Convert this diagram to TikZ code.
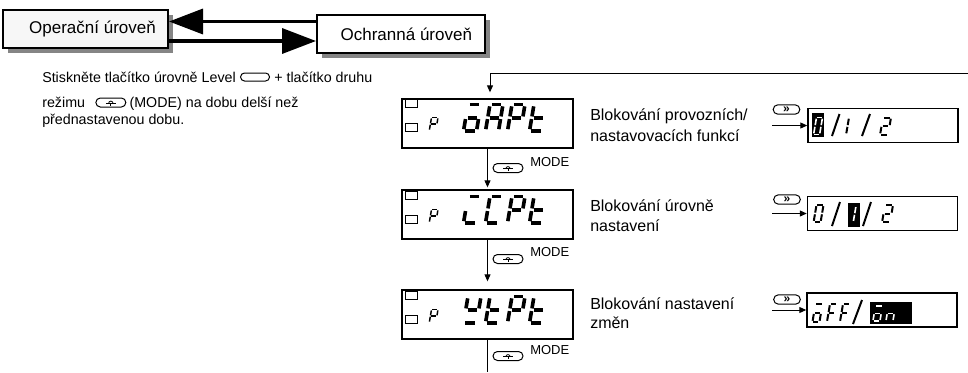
\documentclass[tikz,border=0pt]{standalone}
\usepackage{fontspec}
\setmainfont{Liberation Sans}
\usetikzlibrary{arrows.meta,calc,shapes.misc,shadows}
\definecolor{shadowgray}{HTML}{858585}
\definecolor{boxfill}{HTML}{F7F7F7}
% seven-segment pieces (unit cell, y downward)
\newcommand\segA{\draw[seg] (0.14,0)--(0.86,0);}
\newcommand\segB{\draw[seg] (1,0.07)--(1,0.45);}
\newcommand\segC{\draw[seg] (1,0.55)--(1,0.93);}
\newcommand\segD{\draw[seg] (0.14,1)--(0.86,1);}
\newcommand\segE{\draw[seg] (0,0.55)--(0,0.93);}
\newcommand\segF{\draw[seg] (0,0.07)--(0,0.45);}
\newcommand\segG{\draw[seg] (0.14,0.5)--(0.86,0.5);}
\newcommand\glyph[6]{\begin{scope}[shift={(#2,#3)},xslant=0.17,xscale=#4,yscale=#5,seg/.style={#1}]#6\end{scope}}
\newcommand\lcdfill[5]{%
  \draw[ledbox] (405,#1+1.5) rectangle (417,#1+9.5);
  \draw[ledbox] (405,#1+25) rectangle (417,#1+33);
  \glyph{line width=1.1pt}{431.5}{#1+19.5}{6.5}{13}{\segA\segB\segF\segG\segE}
  \glyph{bigseg}{468}{#1+6.5}{13}{26.5}{#2}
  \glyph{bigseg}{490}{#1+6.5}{13}{26.5}{#3}
  \glyph{bigseg}{512}{#1+6.5}{13}{26.5}{#4}
  \glyph{bigseg}{534}{#1+6.5}{13}{26.5}{#5}}
\newcommand\modesym[1]{%
  \draw[line width=0.6pt] ($(#1.center)+(-5,0.8)$) -- ++(10,0);
  \draw[line width=0.6pt] ($(#1.center)+(-2.2,0.8)$) arc[start angle=180,end angle=360,radius=2.2];
  \draw[line width=0.6pt] ($(#1.center)+(0,0.8)$) -- ++(0,2.2);}
\tikzset{
  lvlbox/.style={draw, line width=1.5pt, minimum height=28.5pt, inner sep=0pt,
    font=\fontsize{12.75}{15}\selectfont,
    general shadow={fill=shadowgray, shadow xshift=3.5pt, shadow yshift=-3.5pt}},
  lcd/.style={draw, line width=1pt, minimum width=128.25pt, minimum height=36.75pt, inner sep=0pt},
  sbox/.style={draw, line width=1.1pt, minimum width=112.5pt, minimum height=25.5pt, inner sep=0pt},
  bigarrow/.style={line width=2.6pt, -{Triangle[length=25.5pt,width=18.75pt]}},
  thinarrow/.style={line width=0.75pt, -{Triangle[length=5.25pt,width=4.5pt]}},
  thinline/.style={line width=0.75pt},
  pill/.style={draw, rounded rectangle, line width=0.75pt, inner sep=0pt,
    minimum width=22.5pt, minimum height=6.75pt},
  keypill/.style={pill, minimum width=20pt, minimum height=7pt,
    font=\bfseries\fontsize{9}{9}\selectfont},
  lbl/.style={font=\fontsize{12}{14}\selectfont, anchor=base west, inner sep=0pt},
  note/.style={font=\fontsize{10.7}{12}\selectfont, anchor=base west, inner sep=0pt},
  modetxt/.style={font=\fontsize{9.75}{11}\selectfont, anchor=west, inner sep=0pt},
  bigseg/.style={line width=2.7pt},
  smseg/.style={line width=1.5pt},
  invseg/.style={line width=1.2pt, white},
  ledbox/.style={line width=0.6pt},
  slashline/.style={line width=1.5pt},
}
\begin{document}
\begin{tikzpicture}[x=0.75pt,y=-0.75pt]
\useasboundingbox (0,0) rectangle (968,372);

% top level boxes
\node[lvlbox, fill=boxfill, minimum width=123.75pt] (oper) at (85.5,29) {\hspace*{10.5pt}Operační úroveň};
\node[lvlbox, fill=white, minimum width=126pt] (ochr) at (401,34) {\hspace*{8pt}Ochranná úroveň};
\coordinate (uplev) at (0,21.5);
\coordinate (dnlev) at (0,41);
\draw[bigarrow] (ochr.west |- uplev) -- (oper.east |- uplev);
\draw[bigarrow] (oper.east |- dnlev) -- (ochr.west |- dnlev);

% left note
\node[note] (n1) at (42,82) {Stiskněte tlačítko úrovně Level};
\node[pill, minimum width=21.75pt, minimum height=6pt, anchor=west] (lvl) at ($(n1.base east)+(4,-5)$) {};
\node[note] (n1b) at ($(lvl.east)+(4,5)$) {+ tlačítko druhu};
\node[note] (n2) at (42,107) {režimu};
\node[pill, anchor=west] (mk0) at ($(n2.base east)+(10,-4.5)$) {};
\modesym{mk0}
\node[note] (n2b) at ($(mk0.east)+(3,4.5)$) {(MODE) na dobu delší než};
\node[note] (n3) at (42,124) {přednastavenou dobu.};

% LCD displays
\node[lcd] (d1) at (487.5,123.5) {};
\node[lcd] (d2) at (487.5,214.5) {};
\node[lcd] (d3) at (487.5,314.5) {};
\lcdfill{98}{\segA\segC\segD\segE\segG}{\segA\segB\segC\segE\segF\segG}{\segA\segB\segE\segF\segG}{\segF\segE\segD\segG}
\lcdfill{190}{\segA\segE\segD}{\segA\segF\segE\segD}{\segA\segB\segE\segF\segG}{\segF\segE\segD\segG}
\lcdfill{290}{\segF\segB\segG\segD}{\segF\segE\segD\segG}{\segA\segB\segE\segF\segG}{\segF\segE\segD\segG}

% feedback line and vertical connectors
\coordinate (fbR) at (968,73);
\coordinate (fbC) at (490,73);
\coordinate (bot) at (487.5,372);
\draw[thinarrow, shorten >=4.5pt] (fbR) -- (fbC) -- (fbC |- d1.north);
\draw[thinarrow, shorten >=1.5pt] (d1.south) -- (d2.north);
\draw[thinarrow, shorten >=6pt] (d2.south) -- (d3.north);
\draw[thinline] (d3.south) -- (bot);

% MODE labels
\node[pill] (m1) at (508,168) {}; \modesym{m1}
\node[modetxt] (mt1) at (530,162) {MODE};
\node[pill] (m2) at (508,259) {}; \modesym{m2}
\node[modetxt] (mt2) at (530,252) {MODE};
\node[pill] (m3) at (508,356) {}; \modesym{m3}
\node[modetxt] (mt3) at (530,350) {MODE};

% right labels
\node[lbl] (l1a) at (590,120) {Blokování provozních/};
\node[lbl] (l1b) at (590,141) {nastavovacích funkcí};
\node[lbl] (l2a) at (590,211) {Blokování úrovně};
\node[lbl] (l2b) at (590,231) {nastavení};
\node[lbl] (l3a) at (590,309) {Blokování nastavení};
\node[lbl] (l3b) at (590,328) {změn};

% small displays
\node[sbox] (sb1) at (883,125.5) {};
\node[sbox] (sb2) at (882.5,213.5) {};
\node[sbox] (sb3) at (882,310) {};

% shift keys and arrows
\node[keypill] (k1) at (786.5,109.5) {»};
\node[keypill] (k2) at (787,199.5) {»};
\node[keypill] (k3) at (787,299.5) {»};
\coordinate (ax) at (772,0);
\draw[thinarrow] (ax |- sb1.west) -- (sb1.west);
\draw[thinarrow] (ax |- sb2.west) -- (sb2.west);
\draw[thinarrow] (ax |- sb3.west) -- (sb3.west);

% contents of small display 1: 0 / 1 / 2 (0 highlighted)
\fill (812,113) rectangle (824,137);
\glyph{invseg}{816.5}{117.5}{6}{17}{\segA\segB\segC\segD\segE\segF}
\draw[slashline] (832,136) -- (839.5,114);
\glyph{smseg}{841}{117.5}{8}{17}{\segB\segC}
\draw[slashline] (862,136) -- (870,114);
\glyph{smseg}{883}{117.5}{8}{17}{\segA\segB\segG\segE\segD}

% small display 2: 0 / 1 / 2 (1 highlighted)
\glyph{smseg}{816.5}{205}{7}{17}{\segA\segB\segC\segD\segE\segF}
\draw[slashline] (832,226) -- (840,202);
\fill (848,203) rectangle (860,227);
\glyph{invseg}{849}{206}{7}{16}{\segB\segC}
\draw[slashline] (863,226) -- (871,202);
\glyph{smseg}{885}{205}{8}{17}{\segA\segB\segG\segE\segD}

% small display 3: oFF / on (on highlighted)
\glyph{smseg}{815.5}{304}{7}{18}{\segA\segC\segD\segE\segG}
\glyph{smseg}{830}{304}{7}{18}{\segA\segF\segE\segG}
\glyph{smseg}{843}{304}{7}{18}{\segA\segF\segE\segG}
\draw[slashline] (853,324) -- (862,300);
\fill (870,302) rectangle (912,324);
\glyph{invseg}{875.5}{306}{7}{15}{\segA\segC\segD\segE\segG}
\glyph{invseg}{888.5}{306}{7}{15}{\segC\segE\segG}
\end{tikzpicture}
\end{document}
